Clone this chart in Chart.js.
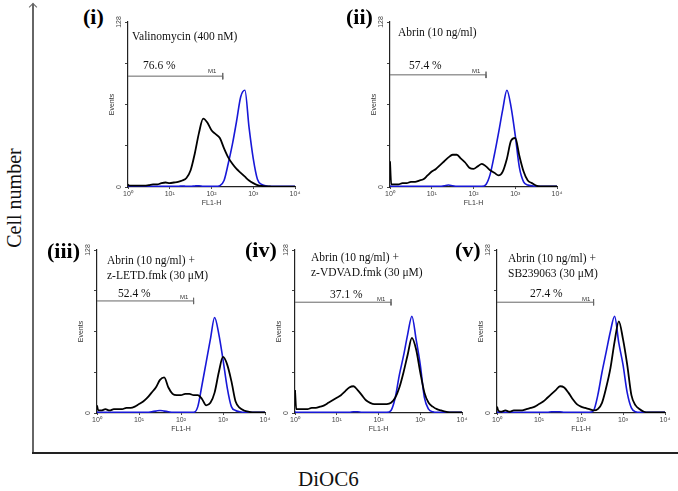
<!DOCTYPE html>
<html>
<head>
<meta charset="utf-8">
<script src="https://cdn.jsdelivr.net/npm/chart.js@4.4.0/dist/chart.umd.min.js"></script>
<style>
  body { margin: 0; background: #fff; }
  #fig { position: relative; width: 678px; height: 491px; overflow: hidden; font-family: "Liberation Serif", serif; }
  canvas { position: absolute; }
  .t { position: absolute; white-space: nowrap; line-height: 1; font-size: 11.5px; color: #111; }
  .lab { position: absolute; white-space: nowrap; line-height: 1; font-size: 22px; font-weight: bold; }
  .m1 { position: absolute; line-height: 1; font-family: "Liberation Sans", sans-serif; font-size: 6px; color: #333; }
  .line { position: absolute; background: #555; }
</style>
</head>
<body>
<div id="fig">
  <div class="line" style="left:32px;top:4px;width:1.5px;height:450px;background:#666"></div>
  <div style="position:absolute;left:30px;top:4px;width:5px;height:5px;border-left:1.2px solid #666;border-top:1.2px solid #666;transform:rotate(45deg)"></div>
  <div class="line" style="left:32px;top:452px;width:646px;height:1.5px;background:#222"></div>
  <div class="t" style="font-size:20px;left:-36px;top:188px;width:100px;text-align:center;transform:rotate(-90deg)">Cell number</div>
  <div class="t" style="font-size:21px;left:298px;top:469px">DiOC6</div>
</div>

<script>
// FL1-H channel positions, in decades (10^0 .. 10^4)
const channels = [0, 0.03,
  0.1, 0.2, 0.3, 0.4, 0.5, 0.6, 0.7, 0.8, 0.9, 1.0,
  1.1, 1.2, 1.3, 1.4, 1.5, 1.6, 1.7, 1.8, 1.9, 2.0,
  2.1, 2.2, 2.3, 2.4, 2.5, 2.6, 2.7, 2.8, 2.9, 3.0,
  3.1, 3.2, 3.3, 3.4, 3.5, 3.6, 3.7, 3.8, 3.9, 4.0];

const xTickLabels = ["10⁰", "10¹", "10²", "10³", "10⁴"];

// (i) Valinomycin
const black_i = [2, 1,
  1, 1, 1, 1, 1.5, 2, 2, 3, 3.5, 3,
  3.5, 4, 5, 7, 13, 26, 42, 53, 50, 44,
  41, 38, 30, 23, 18, 14, 11, 8, 5, 3,
  1.5, 0.8, 0.5, 0.4, 0.3, 0.3, 0.3, 0.3, 0.3, 0.3];
const blue_i = [1, 0.5,
  0.5, 0.5, 0.5, 0.5, 0.5, 0.5, 0.5, 0.5, 0.5, 0.5,
  0.5, 0.5, 0.8, 0.5, 0.5, 0.8, 1, 0.5, 0.5, 0.5,
  0.5, 1, 5, 18, 33, 51, 70, 75, 46, 22,
  6, 2, 1, 0.5, 0.5, 0.5, 0.5, 0.5, 0.5, 0.5];

// (ii) Abrin
const black_ii = [20, 2,
  2, 2, 3, 3, 4, 4, 5, 6, 9, 12,
  14, 17, 20, 23, 25, 25, 22, 19, 15, 14,
  16, 18, 16, 13, 11, 9, 12, 22, 36, 38,
  24, 12, 5, 3, 1, 0.5, 0.5, 0.5, 0.5, 0.5];
const blue_ii = [1, 0.5,
  0.5, 0.5, 0.5, 0.5, 0.5, 0.5, 0.5, 0.5, 0.5, 0.5,
  0.5, 0.5, 1, 1.5, 1, 0.5, 0.5, 0.5, 0.5, 0.5,
  0.5, 0.5, 2, 10, 25, 42, 60, 75, 62, 40,
  15, 4, 1.5, 1, 0.5, 0.5, 0.5, 0.5, 0.5, 0.5];

// (iii) Abrin + z-LETD.fmk
const black_iii = [6, 2,
  2, 3, 2, 3, 3, 3, 4, 4, 5, 7,
  9, 12, 16, 20, 26, 28, 20, 15, 14, 14,
  15, 15, 14, 14, 11, 6, 8, 16, 32, 44,
  38, 25, 9, 4, 2, 1, 0.5, 0.5, 0.5, 0.5];
const blue_iii = [1, 0.5,
  0.5, 0.5, 0.5, 0.5, 0.5, 0.5, 0.5, 0.5, 0.5, 0.5,
  0.5, 0.5, 1, 1.5, 2, 1.5, 1, 0.5, 0.5, 0.5,
  0.5, 0.5, 0.5, 5, 22, 40, 58, 75, 62, 42,
  20, 5, 2, 1, 0.5, 0.5, 0.5, 0.5, 0.5, 0.5];

// (iv) Abrin + z-VDVAD.fmk
const black_iv = [18, 3,
  3, 3, 3, 4, 4, 5, 6, 8, 10, 12,
  14, 17, 20, 21, 18, 14, 10, 8, 7, 7,
  7, 7, 8, 12, 20, 32, 46, 59, 50, 32,
  16, 8, 5, 3, 2, 1, 0.5, 0.5, 0.5, 0.5];
const blue_iv = [1, 0.5,
  0.5, 0.5, 0.5, 0.5, 0.5, 0.5, 0.5, 0.5, 0.5, 0.5,
  0.5, 0.5, 0.5, 1, 1, 0.5, 0.5, 0.5, 0.5, 0.5,
  0.5, 0.5, 2, 12, 30, 45, 62, 76, 58, 38,
  12, 3, 1, 0.5, 0.5, 0.5, 0.5, 0.5, 0.5, 0.5];

// (v) Abrin + SB239063
const black_v = [5, 2,
  1, 2, 1, 2, 2, 2, 3, 4, 5, 7,
  9, 12, 15, 18, 21, 20, 16, 11, 7, 5,
  4, 3, 2, 3, 8, 20, 35, 56, 72, 58,
  38, 14, 6, 3, 1, 0.5, 0.5, 0.5, 0.5, 0.5];
const blue_v = [1, 0.5,
  0.5, 0.5, 0.5, 0.5, 0.5, 0.5, 0.5, 0.5, 0.5, 0.5,
  0.5, 0.5, 1, 1, 1, 0.5, 0.5, 0.5, 0.5, 0.5,
  0.5, 0.5, 2, 14, 32, 48, 64, 76, 55, 38,
  16, 4, 1, 0.5, 0.5, 0.5, 0.5, 0.5, 0.5, 0.5];

// M1 marker: right end (decades) and height (events)
const m1End = [2.27, 2.3, 2.3, 2.3, 2.3];
const m1Level = [86, 87, 88, 87, 87];

const percents = ["76.6 %", "57.4 %", "52.4 %", "37.1 %", "27.4 %"];
const panelNames = ["(i)", "(ii)", "(iii)", "(iv)", "(v)"];
const treatments = [
  ["Valinomycin (400 nM)"],
  ["Abrin (10 ng/ml)"],
  ["Abrin (10 ng/ml) +", "z-LETD.fmk (30 μM)"],
  ["Abrin (10 ng/ml) +", "z-VDVAD.fmk (30 μM)"],
  ["Abrin (10 ng/ml) +", "SB239063 (30 μM)"]
];
const blacks = [black_i, black_ii, black_iii, black_iv, black_v];
const blues = [blue_i, blue_ii, blue_iii, blue_iv, blue_v];

// layout of each panel: plot area in page pixels, and text anchors
const boxes = [
  { x0: 128, x4: 295, top: 22, bot: 187, lab: [83, 6], txt: [132, 31, 15], pct: [143, 60], m1: [208, 68] },
  { x0: 390, x4: 557, top: 22, bot: 187, lab: [346, 6], txt: [398, 26.5, 15], pct: [409, 60], m1: [472, 68] },
  { x0: 97, x4: 265, top: 250, bot: 413, lab: [47, 240], txt: [107, 255, 15], pct: [118, 288], m1: [180, 294] },
  { x0: 295, x4: 462, top: 250, bot: 413, lab: [245, 239], txt: [311, 251.5, 15], pct: [330, 288.5], m1: [377, 296] },
  { x0: 497, x4: 665, top: 250, bot: 413, lab: [455, 239], txt: [508, 253, 15], pct: [530, 288], m1: [582, 296] }
];

const fig = document.getElementById("fig");

function addText(cls, str, left, top) {
  const d = document.createElement("div");
  d.className = cls;
  d.textContent = str;
  d.style.left = left + "px";
  d.style.top = top + "px";
  fig.appendChild(d);
}

function pts(arr) {
  return arr.map((v, i) => ({ x: channels[i], y: v }));
}

const small = { family: "Liberation Sans", size: 7 };

boxes.forEach((b, k) => {
  const cv = document.createElement("canvas");
  const w = b.x4 - b.x0 + 28;
  const h = b.bot - b.top + 28;
  cv.width = w; cv.height = h;
  cv.style.left = (b.x0 - 20) + "px";
  cv.style.top = (b.top - 8) + "px";
  fig.appendChild(cv);

  const e = m1End[k], lv = m1Level[k];
  new Chart(cv, {
    type: "line",
    data: {
      datasets: [
        { data: pts(blacks[k]), borderColor: "#000", borderWidth: 1.8, pointRadius: 0, cubicInterpolationMode: "monotone" },
        { data: pts(blues[k]), borderColor: "#1818d8", borderWidth: 1.6, pointRadius: 0, cubicInterpolationMode: "monotone" },
        { data: [{ x: 0, y: lv }, { x: e, y: lv }, { x: e, y: lv + 2.5 }, { x: e, y: lv - 2.5 }],
          borderColor: "#666", borderWidth: 1, pointRadius: 0, tension: 0 }
      ]
    },
    options: {
      responsive: false,
      animation: false,
      layout: { padding: { top: 8, right: 8 } },
      plugins: { legend: { display: false }, tooltip: { enabled: false } },
      scales: {
        x: {
          type: "linear", min: 0, max: 4,
          afterFit: (s) => { s.height = 20; },
          ticks: { stepSize: 1, autoSkip: false, maxRotation: 0, padding: 1, color: "#444", font: small,
                   callback: (v) => xTickLabels[v] },
          grid: { drawOnChartArea: false, tickLength: 2, color: "#444" },
          border: { color: "#222", width: 1.2 },
          title: { display: true, text: "FL1-H", color: "#333", font: small, padding: 0 }
        },
        y: {
          min: 0, max: 128,
          afterFit: (s) => { s.width = 20; },
          ticks: { stepSize: 32, minRotation: 90, maxRotation: 90, padding: 0, crossAlign: "center",
                   color: "#444", font: small,
                   callback: (v) => (v === 0 || v === 128) ? String(v) : "" },
          grid: { drawOnChartArea: false, tickLength: 3, color: "#444" },
          border: { color: "#222", width: 1.2 },
          title: { display: true, text: "Events", color: "#333", font: small, padding: 0 }
        }
      }
    }
  });

  addText("lab", panelNames[k], b.lab[0], b.lab[1]);
  treatments[k].forEach((line, j) => addText("t", line, b.txt[0], b.txt[1] + j * b.txt[2]));
  addText("t", percents[k], b.pct[0], b.pct[1]);
  addText("m1", "M1", b.m1[0], b.m1[1]);
});
</script>
</body>
</html>
